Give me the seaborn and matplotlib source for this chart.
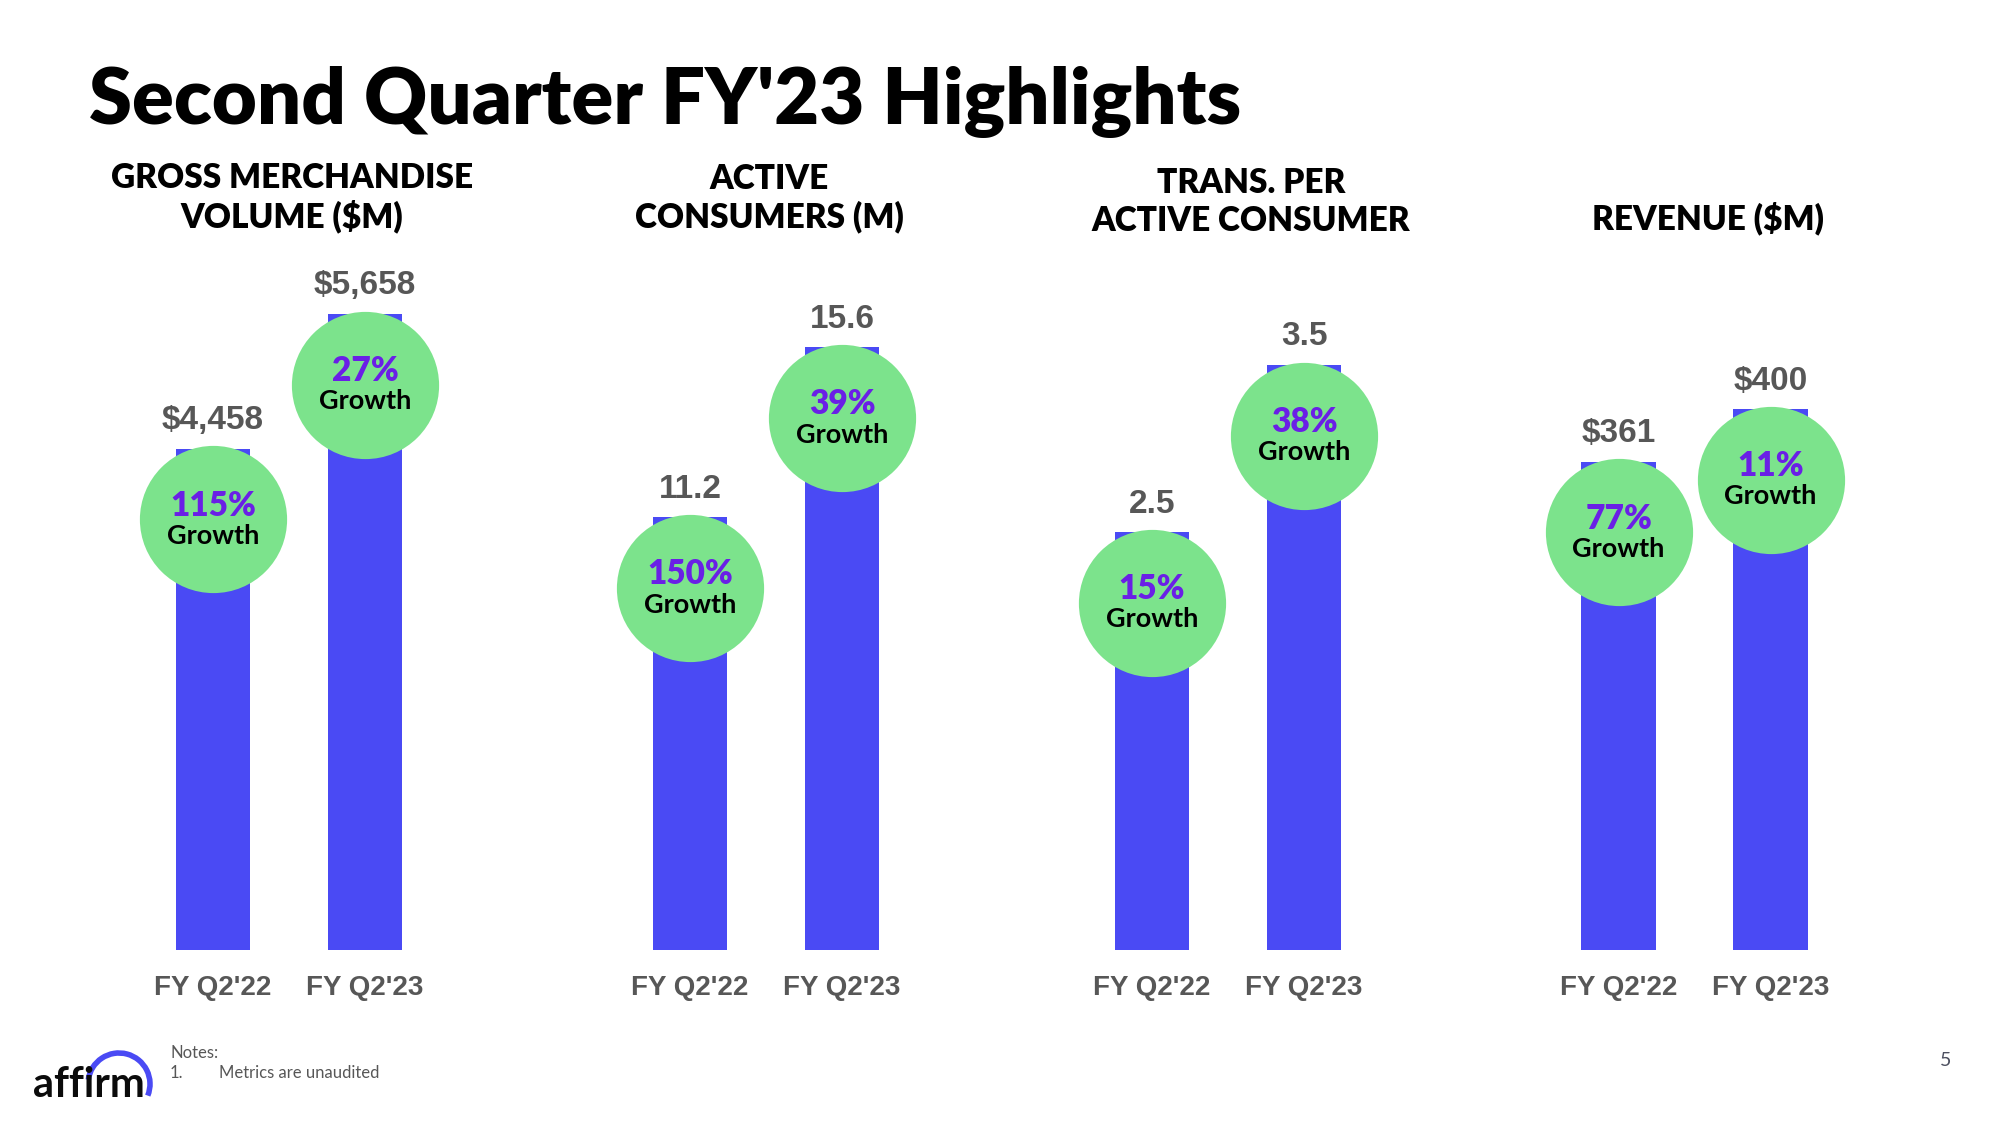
import matplotlib.pyplot as plt
import matplotlib.patches as mpatches
from matplotlib.transforms import offset_copy
import seaborn as sns

# data
periods = ["FY Q2'22", "FY Q2'23"]
panel_titles = ["GROSS MERCHANDISE\nVOLUME ($M)", "ACTIVE\nCONSUMERS (M)",
                "TRANS. PER\nACTIVE CONSUMER", "REVENUE ($M)"]
gmv = [4458, 5658]
active_consumers = [11.2, 15.6]
trans_per_consumer = [2.5, 3.5]
revenue = [361, 400]
gmv_growth = [115, 27]
consumers_growth = [150, 39]
trans_growth = [15, 38]
revenue_growth = [77, 11]
value_prefix = ["$", "", "", "$"]
value_format = ["{:,.0f}", "{:.1f}", "{:.1f}", "{:,.0f}"]

panel_values = [gmv, active_consumers, trans_per_consumer, revenue]
panel_growth = [gmv_growth, consumers_growth, trans_growth, revenue_growth]

BLUE = "#4a4af4"
GREEN = "#7ce38c"
PURPLE = "#6a1fe6"
GREY = "#575757"
HEAD_FONT = ["Lato", "DejaVu Sans"]
NUM_FONT = ["Liberation Sans", "DejaVu Sans"]

sns.set_theme(style="white")
plt.rcParams["font.family"] = HEAD_FONT

fig = plt.figure(figsize=(20, 11.25), dpi=100)

# overlay in pixel coords (y down) for the free text and the logo
ov = fig.add_axes([0, 0, 1, 1])
ov.set_xlim(0, 2000)
ov.set_ylim(1125, 0)
ov.axis("off")
ov.patch.set_visible(False)

ov.text(89, 124, "Second Quarter FY'23 Highlights", fontsize=56, fontweight="heavy",
        color="black", va="baseline", ha="left")

header_x = [292, 769, 1251, 1708]
header_y = [198, 198, 202, 218]
for title, hx, hy in zip(panel_titles, header_x, header_y):
    ov.text(hx, hy, title, fontsize=24, fontweight="heavy", color="black",
            ha="center", va="center", linespacing=1.2)

# logo + notes + page number
ov.text(33, 1097, "affirm", fontsize=30, fontweight="bold", color="#0b0b0b",
        va="baseline", ha="left")
ov.add_patch(mpatches.Arc((119, 1084), 62, 62, theta1=-172, theta2=22,
                          color=BLUE, lw=4))
ov.text(170, 1053, "Notes:", fontsize=12, color=GREY, va="center")
ov.text(170, 1073, "1.", fontsize=12, color=GREY, va="center")
ov.text(219, 1073, "Metrics are unaudited", fontsize=12, color=GREY, va="center")
ov.text(1946, 1061, "5", fontsize=14, color="#4d5060", va="center", ha="center")

# bar panels
panel_left = [0.0685, 0.307, 0.538, 0.7713]
top_fill = [0.909, 0.861, 0.836, 0.773]  # tallest bar / axes height
ax_bottom, ax_height, ax_width = 0.1556, 0.6222, 0.152

for k in range(4):
    ax = fig.add_axes([panel_left[k], ax_bottom, ax_width, ax_height])
    values = panel_values[k]
    sns.barplot(x=periods, y=values, ax=ax, color=BLUE, saturation=1,
                width=0.49, linewidth=0)
    ax.set_xlim(-0.5, 1.5)
    ax.set_ylim(0, max(values) / top_fill[k])
    sns.despine(ax=ax, left=True, bottom=True)
    ax.set_yticks([])
    ax.set_xlabel("")
    ax.set_ylabel("")
    ax.patch.set_visible(False)
    ax.tick_params(axis="x", length=0, pad=18, labelsize=20, labelcolor=GREY)
    for lbl in ax.get_xticklabels():
        lbl.set_fontfamily(NUM_FONT)
        lbl.set_fontweight("bold")

    # growth bubble sits a fixed distance below each bar top
    circle_tr = offset_copy(ax.transData, fig=fig, x=0, y=-51, units="points")
    for i, (v, g) in enumerate(zip(values, panel_growth[k])):
        ax.annotate(value_prefix[k] + value_format[k].format(v), xy=(i, v),
                    xytext=(0, 20), textcoords="offset points", ha="center",
                    va="center", fontsize=24, fontweight="bold", color=GREY,
                    family=NUM_FONT, annotation_clip=False)
        ax.plot(i, v, marker="o", ms=106, color=GREEN, mec="none",
                transform=circle_tr, clip_on=False, zorder=3)
        ax.annotate(f"{g}%", xy=(i, v), xytext=(0, -41), textcoords="offset points",
                    ha="center", va="center", fontsize=24, fontweight="heavy",
                    color=PURPLE, zorder=4, annotation_clip=False)
        ax.annotate("Growth", xy=(i, v), xytext=(0, -63), textcoords="offset points",
                    ha="center", va="center", fontsize=19.5, fontweight="bold",
                    color="black", zorder=4, annotation_clip=False)

fig.savefig("out.png", dpi=100, facecolor="white")
